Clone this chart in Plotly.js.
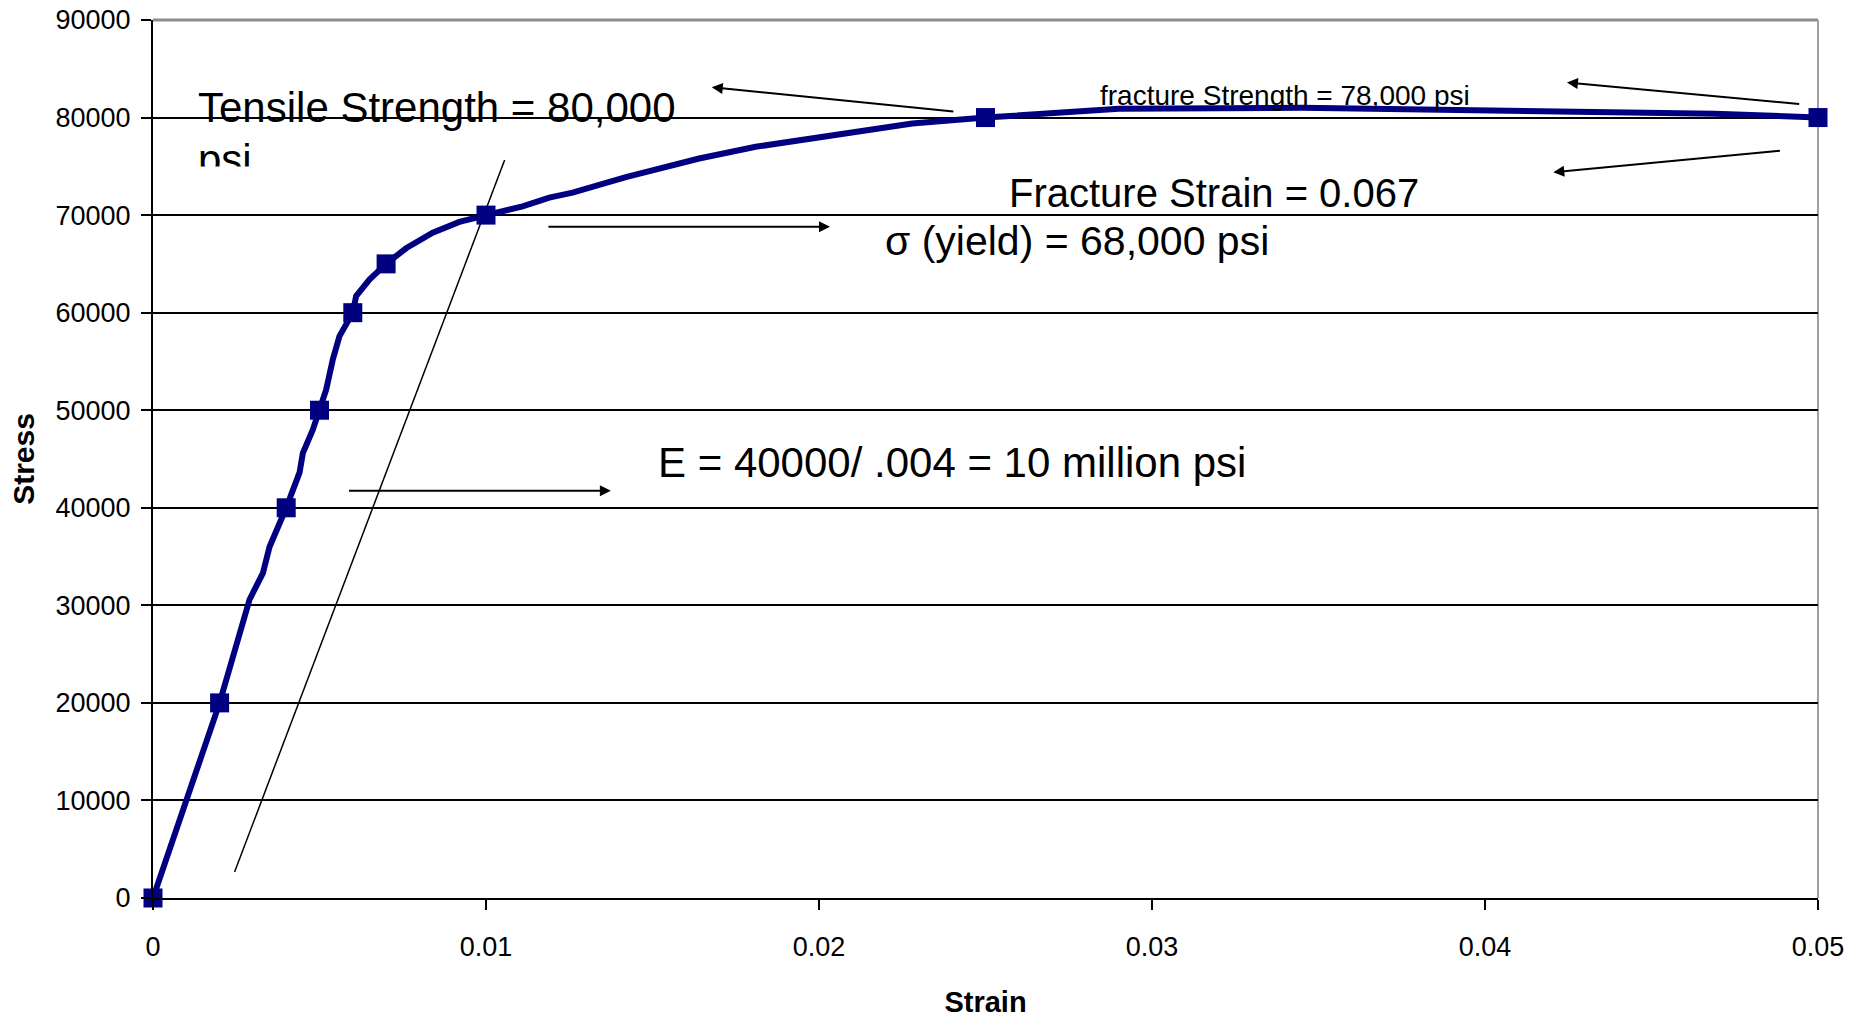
<!DOCTYPE html>
<html>
<head>
<meta charset="utf-8">
<script src="https://cdn.plot.ly/plotly-3.0.1.min.js"></script>
<style>
html,body{margin:0;padding:0;background:#fff;}
#chart{width:1856px;height:1018px;}
</style>
</head>
<body>
<div id="chart"></div>
<script>
// Stress-strain curve (strain, stress in psi)
var curveStrain = [0, 0.002, 0.0029, 0.0033, 0.0035, 0.004, 0.0044, 0.0045, 0.0048, 0.005,
  0.0052, 0.0054, 0.0056, 0.006, 0.0061, 0.0065, 0.007, 0.0076, 0.0084, 0.0092, 0.01,
  0.0111, 0.0119, 0.0126, 0.0142, 0.0164, 0.0181, 0.0228, 0.025, 0.029, 0.0345, 0.04, 0.0469, 0.05];
var curveStress = [0, 20000, 30600, 33300, 36000, 40000, 43600, 45600, 48000, 50000,
  52100, 55200, 57600, 60000, 61700, 63400, 65000, 66600, 68200, 69300, 70000,
  70900, 71800, 72300, 73900, 75800, 77000, 79400, 80000, 80900, 81000, 80800, 80400, 80000];

// Marked data points
var markStrain = [0, 0.002, 0.004, 0.005, 0.006, 0.007, 0.01, 0.025, 0.05];
var markStress = [0, 20000, 40000, 50000, 60000, 65000, 70000, 80000, 80000];

// Offset (construction) line
var offsetStrain = [0.00245, 0.01056];
var offsetStress = [2670, 75640];

// Axis ticks
var xTickVals = [0, 0.01, 0.02, 0.03, 0.04, 0.05];
var xTickText = ['0', '0.01', '0.02', '0.03', '0.04', '0.05'];
var yTickVals = [0, 10000, 20000, 30000, 40000, 50000, 60000, 70000, 80000, 90000];
var yTickText = ['0', '10000', '20000', '30000', '40000', '50000', '60000', '70000', '80000', '90000'];

// Text labels
var labelTexts = ['Tensile Strength = 80,000', 'psi', 'fracture Strength = 78,000 psi',
  'Fracture Strain = 0.067', '\u03c3 (yield) = 68,000 psi', 'E = 40000/ .004 = 10 million psi'];
var labelX = [0.00128, 0.00128, 0.03400, 0.03187, 0.02774, 0.0240];
var labelY = [81000, 75700, 82300, 72250, 67300, 44600];
var labelSize = [42, 42, 28, 40, 41, 42];
var labelAnchor = ['left', 'left', 'center', 'center', 'center', 'center'];

// Arrows: head (x,y), tail (ax,ay)
var arrowHeadX = [0.01678, 0.04246, 0.04205, 0.02033, 0.01375];
var arrowHeadY = [83100, 83600, 74400, 68800, 41750];
var arrowTailX = [0.02408, 0.04948, 0.04890, 0.01183, 0.00584];
var arrowTailY = [80600, 81370, 76600, 68800, 41750];

var FONT = 'Liberation Sans, Arial, Helvetica, sans-serif';

var traces = [
  {x: offsetStrain, y: offsetStress, mode: 'lines', line: {color: '#000', width: 1.5},
   hoverinfo: 'skip', showlegend: false},
  {x: curveStrain, y: curveStress, mode: 'lines', line: {color: '#000080', width: 6},
   showlegend: false},
  {x: markStrain, y: markStress, mode: 'markers',
   marker: {symbol: 'square', size: 19, color: '#000080'}, cliponaxis: false, showlegend: false}
];

var annotations = [];
for (var i = 0; i < labelTexts.length; i++) {
  annotations.push({
    x: labelX[i], y: labelY[i], xref: 'x', yref: 'y', text: labelTexts[i],
    showarrow: false, xanchor: labelAnchor[i], yanchor: 'middle',
    font: {family: FONT, size: labelSize[i], color: '#000'}
  });
  if (i === 1) {
    // white cover clipping the lower half of the wrapped "psi"
    annotations.push({
      x: 0.0011, y: 75050, xref: 'x', yref: 'y', text: ' ', showarrow: false,
      xanchor: 'left', yanchor: 'top', width: 90, height: 42, bgcolor: '#fff', borderpad: 0,
      font: {family: FONT, size: 10}
    });
  }
}
for (var j = 0; j < arrowHeadX.length; j++) {
  annotations.push({
    x: arrowHeadX[j], y: arrowHeadY[j], ax: arrowTailX[j], ay: arrowTailY[j],
    xref: 'x', yref: 'y', axref: 'x', ayref: 'y', text: '', showarrow: true,
    arrowhead: 2, arrowsize: 1.1, arrowwidth: 2, arrowcolor: '#000', standoff: 0, startstandoff: 0
  });
}

var layout = {
  width: 1856, height: 1018,
  margin: {l: 153, r: 38, t: 20, b: 120, pad: 0},
  paper_bgcolor: '#fff', plot_bgcolor: '#fff',
  font: {family: FONT, color: '#000'},
  showlegend: false,
  xaxis: {
    range: [0, 0.05], tickvals: xTickVals, ticktext: xTickText,
    showgrid: false, zeroline: false, showline: true, linecolor: '#000', linewidth: 2,
    ticks: 'outside', ticklen: 10, tickwidth: 2, tickcolor: '#000',
    tickfont: {family: FONT, size: 27, color: '#000'}, ticklabelstandoff: 14,
    title: {text: '<b>Strain</b>', font: {family: FONT, size: 29, color: '#000'}, standoff: 36},
    automargin: false, fixedrange: true
  },
  yaxis: {
    range: [0, 90000], tickvals: yTickVals, ticktext: yTickText,
    showgrid: true, gridcolor: '#000', gridwidth: 2, zeroline: false,
    showline: true, linecolor: '#000', linewidth: 2,
    ticks: 'outside', ticklen: 10, tickwidth: 2, tickcolor: '#000',
    tickfont: {family: FONT, size: 27, color: '#000'}, ticklabelstandoff: 5,
    title: {text: '<b>Stress</b>', font: {family: FONT, size: 30, color: '#000'}, standoff: 12},
    automargin: false, fixedrange: true
  },
  shapes: [
    {type: 'line', xref: 'paper', yref: 'paper', x0: 0, x1: 1, y0: 1, y1: 1,
     line: {color: '#8c8c8c', width: 3}, layer: 'between'},
    {type: 'line', xref: 'paper', yref: 'paper', x0: 1, x1: 1, y0: 0, y1: 1,
     line: {color: '#a0a0a0', width: 2}, layer: 'between'}
  ],
  annotations: annotations
};

Plotly.newPlot('chart', traces, layout, {displayModeBar: false, staticPlot: true});
</script>
</body>
</html>
